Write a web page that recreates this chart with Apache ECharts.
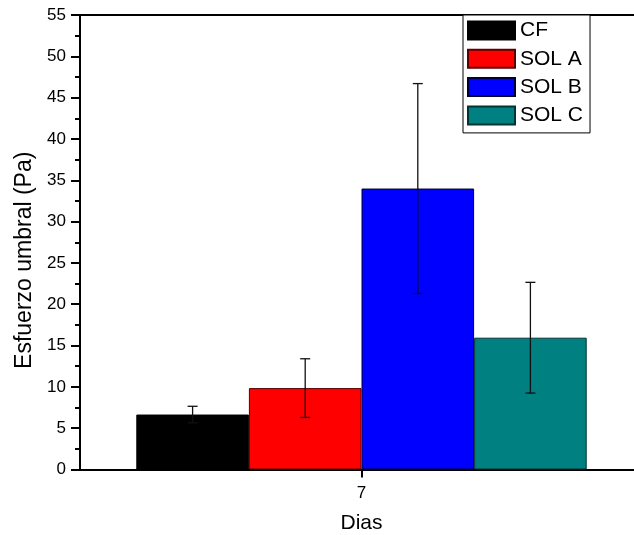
<!DOCTYPE html>
<html>
<head>
<meta charset="utf-8">
<script src="https://cdn.jsdelivr.net/npm/echarts@6/dist/echarts.min.js"></script>
<style>
  html, body { margin: 0; padding: 0; background: #fff; overflow: hidden; }
  #chart { width: 634px; height: 535px; }
</style>
</head>
<body>
<div id="chart"></div>
<script>
// Yield stress (Pa) at day 7 for the control and three solutions
const categories = ['7'];
const seriesNames = ['CF', 'SOL A', 'SOL B', 'SOL C'];
const means = [6.65, 9.85, 34.0, 15.95];
const errors = [1.0, 3.55, 12.7, 6.7];
const colors = ['#000000', '#ff0000', '#0000ff', '#008080'];
const borders = ['#000000', '#5a0000', '#000033', '#003333'];
const yTicks = { min: 0, max: 55, interval: 5 };

const FONT = 'Liberation Sans, Arial, sans-serif';
const BAR_FRACTION = 0.2;

const chart = echarts.init(document.getElementById('chart'), null, { renderer: 'canvas' });

const barSeries = seriesNames.map((name, i) => ({
  name,
  type: 'bar',
  data: [means[i]],
  barWidth: (BAR_FRACTION * 100) + '%',
  barGap: '0%',
  itemStyle: { color: colors[i], borderColor: borders[i], borderWidth: 1 },
  emphasis: { disabled: true },
  z: 2
}));

// Error bars drawn on top of each bar, offset to the bar's slot within the category band
const errorSeries = {
  type: 'custom',
  name: 'err',
  data: seriesNames.map((_, i) => [0, means[i], errors[i], i]),
  renderItem: function (params, api) {
    const idx = api.value(3);
    const m = api.value(1);
    const e = api.value(2);
    const band = api.size([1, 0])[0];
    const center = api.coord([0, m]);
    const x = center[0] + (idx - (seriesNames.length - 1) / 2) * band * BAR_FRACTION;
    const yTop = api.coord([0, m + e])[1];
    const yBot = api.coord([0, m - e])[1];
    const cap = 5;
    const style = { stroke: '#111', lineWidth: 1.3 };
    return {
      type: 'group',
      children: [
        { type: 'line', shape: { x1: x, y1: yTop, x2: x, y2: yBot }, style },
        { type: 'line', shape: { x1: x - cap, y1: yTop, x2: x + cap, y2: yTop }, style },
        { type: 'line', shape: { x1: x - cap, y1: yBot, x2: x + cap, y2: yBot }, style }
      ]
    };
  },
  z: 5,
  silent: true
};

chart.setOption({
  animation: false,
  backgroundColor: '#fff',
  textStyle: { fontFamily: FONT },
  // the plot frame runs slightly past the right edge of the canvas
  grid: { left: 80, top: 15, width: 563, height: 454.5, outerBoundsMode: 'none', containLabel: false },
  legend: {
    data: seriesNames,
    orient: 'vertical',
    left: 463,
    top: 15,
    padding: [5, 7, 7, 4],
    icon: 'rect',
    itemWidth: 47,
    itemHeight: 18,
    itemGap: 7.3,
    borderColor: '#000',
    borderWidth: 1,
    backgroundColor: '#fff',
    textStyle: { fontSize: 21, lineHeight: 18, color: '#000', fontFamily: FONT },
    selectedMode: false
  },
  xAxis: [
    {
      type: 'category',
      data: categories,
      position: 'bottom',
      name: 'Dias',
      nameLocation: 'middle',
      nameGap: 43,
      nameTextStyle: { fontSize: 21, color: '#000', fontFamily: FONT },
      axisLine: { lineStyle: { color: '#000', width: 2 } },
      axisTick: { show: true, alignWithLabel: true, inside: false, length: 8, lineStyle: { color: '#000', width: 2 } },
      axisLabel: { fontSize: 17, color: '#000', margin: 15, fontFamily: FONT }
    },
    {
      type: 'category',
      data: categories,
      position: 'top',
      axisLine: { lineStyle: { color: '#000', width: 2 } },
      axisTick: { show: false },
      axisLabel: { show: false }
    }
  ],
  yAxis: {
    type: 'value',
    min: yTicks.min,
    max: yTicks.max,
    interval: yTicks.interval,
    name: 'Esfuerzo umbral (Pa)',
    nameLocation: 'middle',
    nameGap: 43,
    nameTextStyle: { fontSize: 23, color: '#000', fontFamily: FONT, padding: [0, 36, 0, 0] },
    axisLine: { show: true, lineStyle: { color: '#000', width: 2 } },
    axisTick: { show: true, inside: false, length: 9, lineStyle: { color: '#000', width: 2 } },
    minorTick: { show: true, splitNumber: 2, length: 5, lineStyle: { color: '#000', width: 2 } },
    axisLabel: { fontSize: 17, color: '#000', margin: 14, fontFamily: FONT },
    splitLine: { show: false }
  },
  series: [...barSeries, errorSeries]
});
</script>
</body>
</html>
